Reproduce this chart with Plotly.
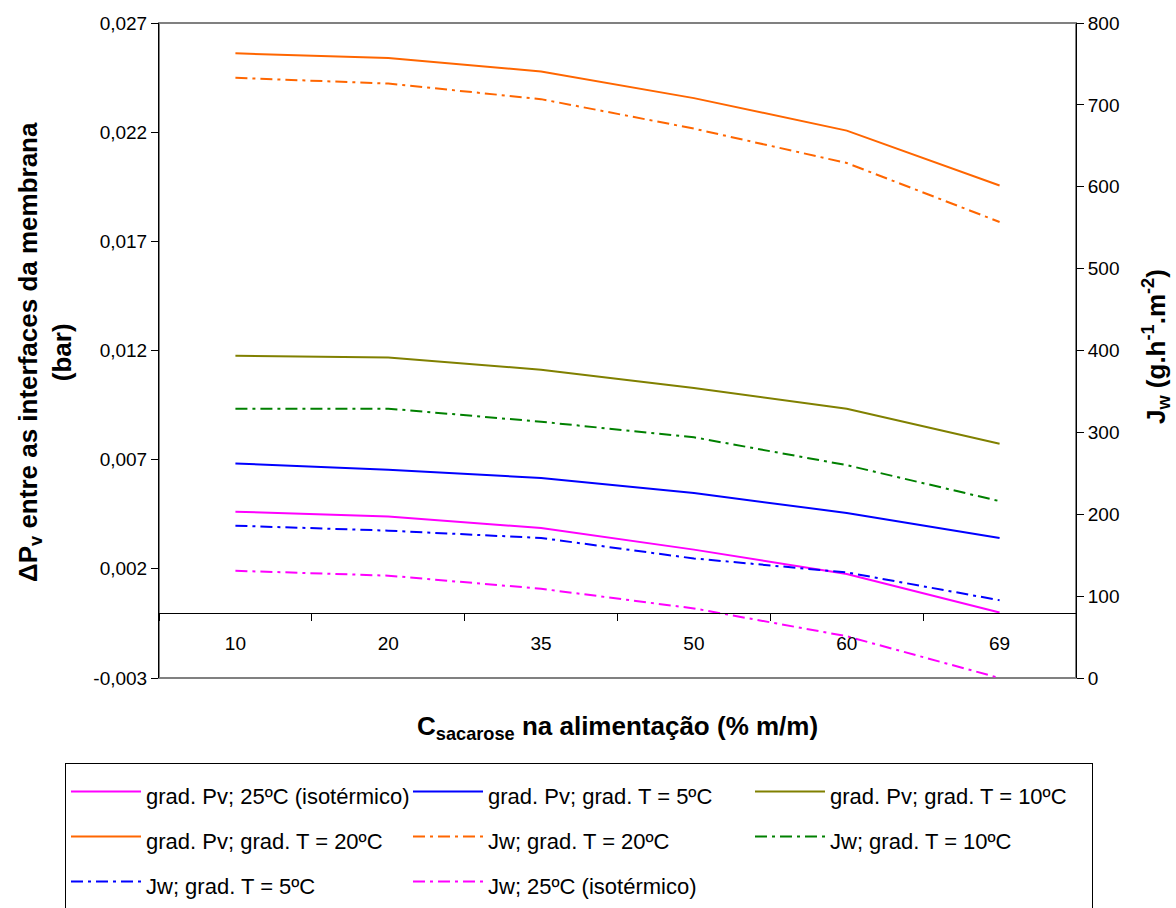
import plotly.graph_objects as go

# ---------------- data ----------------
categorias = ["10", "20", "35", "50", "60", "69"]

# left axis: ΔPv (bar)
pv_25_iso = [0.00462, 0.00440, 0.00387, 0.00288, 0.00176, 0.00000]
pv_grad5 = [0.00683, 0.00654, 0.00616, 0.00547, 0.00456, 0.00341]
pv_grad10 = [0.01176, 0.01168, 0.01112, 0.01028, 0.00933, 0.00773]
pv_grad20 = [0.02561, 0.02540, 0.02478, 0.02356, 0.02207, 0.01956]

# right axis: Jw (g.h-1.m-2)
jw_grad20 = [733, 726, 707, 671, 629, 557]
jw_grad10 = [329, 329, 313, 294, 260, 216]
jw_grad5 = [186, 180, 171, 146, 129, 95]
jw_25_iso = [131, 125, 109, 85, 51, 0]

left_tickvals = [-0.003, 0.002, 0.007, 0.012, 0.017, 0.022, 0.027]
left_ticktext = ["-0,003", "0,002", "0,007", "0,012", "0,017", "0,022", "0,027"]
right_tickvals = [0, 100, 200, 300, 400, 500, 600, 700, 800]
right_ticktext = ["0", "100", "200", "300", "400", "500", "600", "700", "800"]

FONT = "Liberation Sans, Arial, sans-serif"
DASHDOT = "12px,5px,3px,5px"

series = [
    ("grad. Pv; 25ºC (isotérmico)", pv_25_iso, "y", "#FF00FF", "solid"),
    ("grad. Pv; grad. T = 5ºC", pv_grad5, "y", "#0000FF", "solid"),
    ("grad. Pv; grad. T = 10ºC", pv_grad10, "y", "#808000", "solid"),
    ("grad. Pv; grad. T = 20ºC", pv_grad20, "y", "#FF6600", "solid"),
    ("Jw; grad. T = 20ºC", jw_grad20, "y2", "#FF6600", DASHDOT),
    ("Jw; grad. T = 10ºC", jw_grad10, "y2", "#008000", DASHDOT),
    ("Jw; grad. T = 5ºC", jw_grad5, "y2", "#0000FF", DASHDOT),
    ("Jw; 25ºC (isotérmico)", jw_25_iso, "y2", "#FF00FF", DASHDOT),
]

fig = go.Figure()
for name, vals, yax, color, dash in series:
    fig.add_trace(go.Scatter(
        x=categorias, y=vals, yaxis=yax, mode="lines",
        name='<span style="font-size:22px">' + name + "</span>",
        line=dict(color=color, width=2, dash=dash),
    ))

# plot area geometry (px)
L, R, T, B = 159, 1076, 23, 678
PW, PH = R - L, B - T


def px(xp):
    return (xp - L) / PW


def py(yp):
    return (B - yp) / PH


zero_pos = (0 - (-0.003)) / (0.027 - (-0.003))

fig.update_layout(
    width=1176, height=908,
    margin=dict(l=L, r=1176 - R, t=T, b=908 - B, autoexpand=False),
    paper_bgcolor="white", plot_bgcolor="white",
    font=dict(family=FONT, color="black", size=19),
    showlegend=True,
    xaxis=dict(
        type="category", range=[-0.5, 5.5], anchor="free", position=zero_pos,
        showline=True, linecolor="black", linewidth=1,
        ticks="outside", tickson="boundaries", ticklen=7, tickcolor="black",
        tickfont=dict(size=19), ticklabelstandoff=14,
        showgrid=False, zeroline=False,
    ),
    yaxis=dict(
        range=[-0.003, 0.027], tickvals=left_tickvals, ticktext=left_ticktext,
        showline=True, linecolor="black", linewidth=1,
        ticks="outside", ticklen=7, tickcolor="black",
        tickfont=dict(size=19), showgrid=False, zeroline=False,
    ),
    yaxis2=dict(
        range=[0, 800], tickvals=right_tickvals, ticktext=right_ticktext,
        overlaying="y", side="right", anchor="free", position=1,
        showline=True, linecolor="black", linewidth=1,
        ticks="outside", ticklen=7, tickcolor="black",
        tickfont=dict(size=19), showgrid=False, zeroline=False,
    ),
    legend=dict(
        orientation="h", x=px(65), y=py(763), xanchor="left", yanchor="top",
        bordercolor="black", borderwidth=1, bgcolor="white",
        font=dict(family=FONT, size=32.3),
        itemwidth=70,
        entrywidth=257, entrywidthmode="pixels",
    ),
    shapes=[
        dict(type="rect", xref="paper", yref="paper", x0=0, x1=1, y0=0, y1=1,
             line=dict(color="#808080", width=2), layer="below"),
    ],
    annotations=[
        dict(text="<b>C<sub>sacarose</sub> na alimentação (% m/m)</b>",
             xref="paper", yref="paper", x=px(617), y=py(728),
             showarrow=False, font=dict(size=26), xanchor="center", yanchor="middle"),
        dict(text="<b>ΔP<sub>v</sub> entre as interfaces da membrana<br>(bar)</b>",
             xref="paper", yref="paper", x=px(45), y=py(352), textangle=-90,
             showarrow=False, font=dict(size=26), xanchor="center", yanchor="middle"),
        dict(text="<b>J<sub>w</sub> (g.h<sup>-1</sup>.m<sup>-2</sup>)</b>",
             xref="paper", yref="paper", x=px(1156), y=py(347), textangle=-90,
             showarrow=False, font=dict(size=26), xanchor="center", yanchor="middle"),
    ],
)

fig.write_html("out.html", config={"displayModeBar": False},
               post_script="document.body.style.margin='0px';")
